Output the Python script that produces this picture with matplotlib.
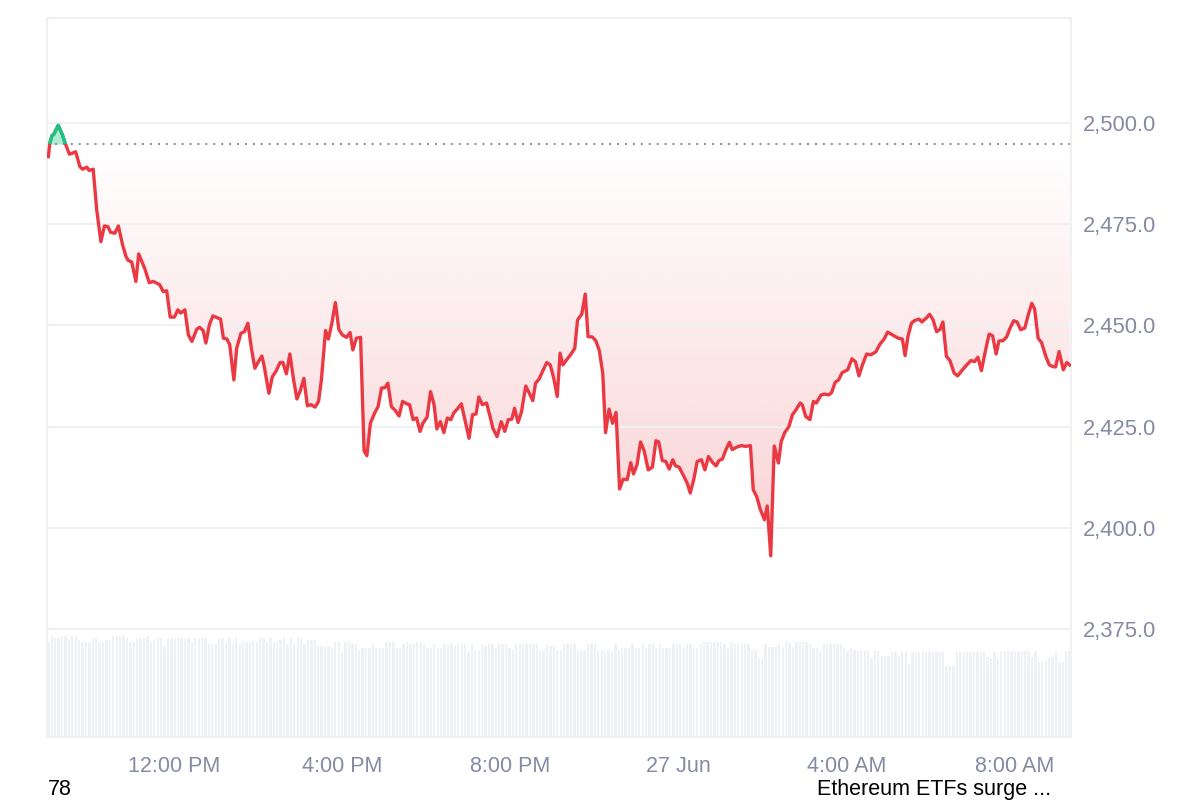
import numpy as np
import matplotlib
matplotlib.use("Agg")
import matplotlib.pyplot as plt
import matplotlib.colors as mcolors
from matplotlib.patches import Rectangle

plt.rcParams['font.family'] = ['Liberation Sans', 'DejaVu Sans']

# minutes after 26 Jun 09:00 and ETH price
minutes = [
    0, 2, 5, 8, 14, 20, 24, 30, 35, 39, 45, 49, 55, 58, 64, 69, 75, 80, 85, 89,
    95, 100, 106, 111, 114, 119, 125, 129, 138, 144, 150, 159, 164, 169, 174, 180, 185, 189, 195, 200,
    205, 212, 216, 221, 225, 230, 235, 243, 246,
    250, 255, 259, 265, 269, 275, 280, 285, 290, 295, 300, 305, 308, 315, 320, 325, 331, 335, 340, 345,
    350, 355, 360, 365, 370, 375, 381, 386, 390, 396, 400, 405, 410, 415, 420, 426, 431, 435, 440, 446,
    451, 455, 460, 466, 471, 476, 481, 485, 490, 495, 501, 506, 512, 516, 521, 526, 531, 535, 541, 546,
    551, 555, 560, 565, 570, 575, 579, 585, 590, 595, 601, 606, 611, 615, 620, 626, 631, 635, 641, 647,
    652, 657, 662, 666, 671, 676, 682, 686, 692, 696, 701, 706, 712, 717, 722, 727, 731,
    735, 741, 746, 752, 756, 762, 767, 771, 777, 782, 787, 792, 796, 801, 806, 811, 816, 821, 827, 832,
    836, 841, 846, 851, 857, 863, 868, 872, 877, 882, 887, 892, 896, 901, 908, 913, 917, 922, 927, 933,
    938, 943, 949, 954, 958, 963, 968, 973,
    977, 983, 990, 996, 1003, 1007, 1012, 1017, 1023, 1027, 1032, 1037, 1043, 1047, 1052, 1058, 1063, 1068, 1074, 1077,
    1082, 1088, 1093, 1097, 1104, 1109, 1115, 1119, 1124, 1129, 1134, 1142, 1148, 1153, 1158, 1163, 1169, 1175, 1182, 1188,
    1194, 1199, 1206, 1214,
    1220, 1224, 1228, 1233, 1238, 1244, 1248, 1255, 1259, 1264, 1269, 1274, 1278, 1283, 1288, 1294, 1299, 1305, 1311, 1318,
    1323, 1328, 1333, 1339, 1344, 1349, 1354, 1358, 1364, 1369, 1374, 1379, 1384, 1389, 1395, 1400, 1405, 1409, 1414, 1419,
    1425, 1430, 1435, 1439, 1444, 1450, 1455, 1459,
]
price = [
    2491.6, 2494.9, 2496.7, 2497.2, 2499.3, 2497.0, 2494.9, 2492.2, 2492.5, 2492.8, 2489.1, 2488.5, 2489.0, 2488.2, 2488.5, 2478.5, 2470.6, 2474.5, 2474.3, 2472.9,
    2472.7, 2474.5, 2469.8, 2466.9, 2466.0, 2465.6, 2460.8, 2467.6, 2463.8, 2460.5, 2460.8, 2460.0, 2458.3, 2458.5, 2452.0, 2452.0, 2453.8, 2453.0, 2453.8, 2447.6,
    2446.0, 2449.0, 2449.5, 2448.7, 2445.6, 2450.1, 2452.3, 2451.7, 2451.5,
    2446.8, 2446.6, 2445.2, 2436.5, 2444.3, 2448.0, 2448.4, 2450.5, 2444.3, 2439.4, 2441.0, 2442.4, 2440.2, 2433.2, 2437.3, 2438.6, 2440.8, 2440.8, 2438.0, 2442.9,
    2436.9, 2431.8, 2433.9, 2436.9, 2430.1, 2430.4, 2429.8, 2431.2, 2436.5, 2448.7, 2446.6, 2450.5, 2455.6, 2448.9, 2447.6, 2447.0, 2448.2, 2443.9, 2446.8, 2447.0,
    2419.0, 2417.8, 2425.8, 2428.3, 2429.9, 2434.5, 2434.6, 2435.7, 2429.9, 2429.1, 2427.6, 2431.2, 2430.6, 2430.4, 2426.7, 2427.1, 2423.8, 2425.8, 2427.3, 2433.6,
    2430.4, 2424.4, 2426.2, 2423.5, 2427.1, 2426.7, 2428.3, 2429.5, 2430.6, 2426.7, 2422.1, 2427.9, 2428.1, 2432.3, 2430.4, 2430.8, 2427.5, 2424.6, 2422.5, 2426.2,
    2423.8, 2426.7, 2426.8, 2429.5, 2426.0, 2428.7, 2435.0, 2433.6, 2431.4, 2435.7, 2436.7, 2438.6, 2440.8, 2440.2, 2436.9, 2432.4, 2443.1,
    2440.2, 2441.6, 2442.7, 2444.3, 2451.3, 2452.7, 2457.7, 2447.2, 2447.1, 2446.2, 2443.8, 2438.2, 2423.5, 2429.3, 2425.8, 2428.5, 2409.6, 2412.0, 2411.9, 2416.1,
    2413.3, 2415.6, 2421.2, 2419.1, 2414.3, 2415.0, 2421.5, 2421.2, 2416.6, 2416.4, 2414.5, 2416.8, 2415.3, 2415.0, 2412.7, 2410.9, 2408.6, 2411.9, 2416.4, 2416.8,
    2414.3, 2417.6, 2416.1, 2415.3, 2416.6, 2417.0, 2419.3, 2421.1,
    2419.3, 2419.9, 2420.3, 2420.1, 2420.3, 2409.4, 2407.7, 2404.6, 2402.0, 2405.4, 2393.1, 2420.2, 2416.0, 2421.3, 2423.5, 2425.0, 2427.9, 2429.1, 2430.8, 2430.4,
    2427.5, 2426.7, 2431.2, 2430.8, 2432.8, 2433.0, 2432.8, 2433.4, 2435.9, 2436.5, 2438.3, 2439.0, 2441.7, 2441.0, 2437.5, 2440.2, 2442.9, 2442.7, 2443.4, 2445.3,
    2446.6, 2448.3, 2447.6, 2446.8,
    2446.6, 2442.5, 2447.2, 2450.5, 2451.2, 2451.5, 2450.8, 2451.9, 2452.7, 2451.3, 2448.4, 2449.0, 2450.8, 2442.3, 2441.3, 2438.2, 2437.5, 2438.8, 2440.0, 2441.3,
    2441.0, 2442.1, 2438.8, 2443.9, 2447.8, 2447.4, 2442.9, 2446.1, 2446.2, 2447.1, 2449.3, 2451.1, 2450.8, 2448.9, 2449.3, 2452.6, 2455.4, 2454.0, 2446.8, 2445.7,
    2442.3, 2440.2, 2439.8, 2439.7, 2443.5, 2439.0, 2440.8, 2440.2,
]
base_price = 2494.7

# volume bars (relative units)
volume = [
    95, 101, 99, 99, 101, 101, 98, 101, 101, 97, 95, 95, 95, 99, 99, 95, 95, 97, 97, 101,
    101, 101, 101, 99, 95, 95, 99, 99, 99, 101, 95, 97, 99, 99, 91, 99, 99, 99, 99, 99,
    99, 99, 95, 99, 99, 99, 99, 93, 93, 93, 99, 99, 95, 99, 93, 99, 93, 95, 95, 95,
    95, 95, 99, 99, 95, 99, 95, 95, 97, 99, 93, 99, 93, 99, 99, 93, 97, 97, 97, 91,
    91, 91, 91, 89, 95, 95, 84, 95, 95, 93, 93, 87, 89, 89, 89, 93, 89, 89, 89,
    95, 95, 95, 89, 89, 93, 95, 93, 93, 95, 95, 93, 89, 89, 93, 89, 89, 93, 93, 93,
    91, 93, 93, 93, 85, 93, 87, 87, 93, 91, 93, 93, 89, 93, 93, 93, 89, 87, 93, 93,
    93, 93, 93, 93, 93, 87, 87, 93, 91, 91, 87, 87, 93, 93, 93, 93, 87, 87, 87, 93,
    93, 93, 87, 87, 85, 87, 85, 93, 87, 89, 89, 89, 93, 89, 89, 93, 89, 93, 93, 89,
    93, 89, 89, 89, 93, 93, 93, 89, 93, 93, 89, 89,
    93, 95, 95, 95, 95, 95, 95, 93, 89, 95, 93, 93, 93, 93, 93, 87, 87, 79, 79, 93,
    90, 90, 91, 93, 90, 96, 95, 90, 95, 95, 95, 95, 93, 89, 89, 86, 93, 93, 93, 93,
    93, 93, 90, 86, 89, 87, 86, 86, 86, 86, 79, 86, 86, 81, 81, 81, 85, 85, 81, 85,
    85, 73, 85, 85, 85, 85, 85, 85, 85, 85, 85, 85, 71, 71, 71, 85, 85, 85, 85, 85,
    85, 85, 85, 85, 80, 78, 85, 79, 86, 86, 86, 86, 86, 86, 86, 86, 86, 80, 86, 75,
    75, 77, 80, 80, 86, 75, 75, 86, 86,
]

tick_minutes = [180, 420, 660, 900, 1140, 1380]
tick_labels = ["12:00 PM", "4:00 PM", "8:00 PM", "27 Jun", "4:00 AM", "8:00 AM"]
price_ticks = [2375, 2400, 2425, 2450, 2475, 2500]

red = "#ea3943"
green = "#16c784"
grid_c = "#eef0f3"
label_c = "#858ca2"

t = np.array(minutes, dtype=float)
p = np.array(price)
x0, x1 = -2, 1461
y0, y1 = 2348.4, 2525.8

fig = plt.figure(figsize=(12, 8), dpi=100)
ax = fig.add_axes([47 / 1200, 1 - 737 / 800, (1071 - 47) / 1200, (737 - 18) / 800])
axv = ax.twinx()
ax.set_zorder(axv.get_zorder() + 1)
ax.patch.set_visible(False)

# volume
vt = np.linspace(t[0], t[-1], len(volume))
axv.bar(vt, volume, width=(vt[1] - vt[0]) * 0.68, color="#eef1f5", linewidth=0)
axv.set_ylim(0, 719)
axv.set_xlim(x0, x1)
axv.axis("off")

# gradient fill below baseline
poly = ax.fill_between(t, np.minimum(p, base_price), base_price, facecolor="none", linewidth=0)
rgba = np.zeros((256, 1, 4))
rgba[..., :3] = mcolors.to_rgb(red)
rgba[:, 0, 3] = np.linspace(0.33, 0.0, 256)
im = ax.imshow(rgba, extent=[x0, x1, y0, base_price], origin="lower", aspect="auto",
               interpolation="bilinear", zorder=1)
im.set_clip_path(poly.get_paths()[0], transform=ax.transData)

# green fill above baseline
ax.fill_between(t, base_price, np.maximum(p, base_price), color=green, alpha=0.35,
                linewidth=0, zorder=1)

ax.axhline(base_price, color="#8e949e", lw=1.5, dashes=(1, 2.8), zorder=2)

ax.plot(t, p, color=red, lw=2.4, solid_joinstyle="round", zorder=3)
gl, = ax.plot(t, p, color=green, lw=2.4, solid_joinstyle="round", zorder=4)
gl.set_clip_path(Rectangle((x0, base_price), x1 - x0, 50, transform=ax.transData))

ax.set_xlim(x0, x1)
ax.set_ylim(y0, y1)
ax.set_xticks(tick_minutes)
ax.set_xticklabels(tick_labels)
ax.set_yticks(price_ticks)
ax.set_yticklabels([f"{v:,.1f}" for v in price_ticks])
ax.yaxis.tick_right()
ax.tick_params(axis="x", length=0, pad=14, labelsize=15.5, labelcolor=label_c)
ax.tick_params(axis="y", length=0, pad=8.5, labelsize=15.8, labelcolor=label_c)
ax.grid(axis="y", color=grid_c, lw=1.5, zorder=0)
for s in ax.spines.values():
    s.set_color(grid_c)
    s.set_linewidth(1.5)

fig.text(48 / 1200, 5 / 800, "78", ha="left", va="baseline", fontsize=15.5, color="black")
fig.text(817 / 1200, 5 / 800, "Ethereum ETFs surge ...", ha="left", va="baseline",
         fontsize=15.5, color="black")

fig.savefig("out.png", dpi=100)
